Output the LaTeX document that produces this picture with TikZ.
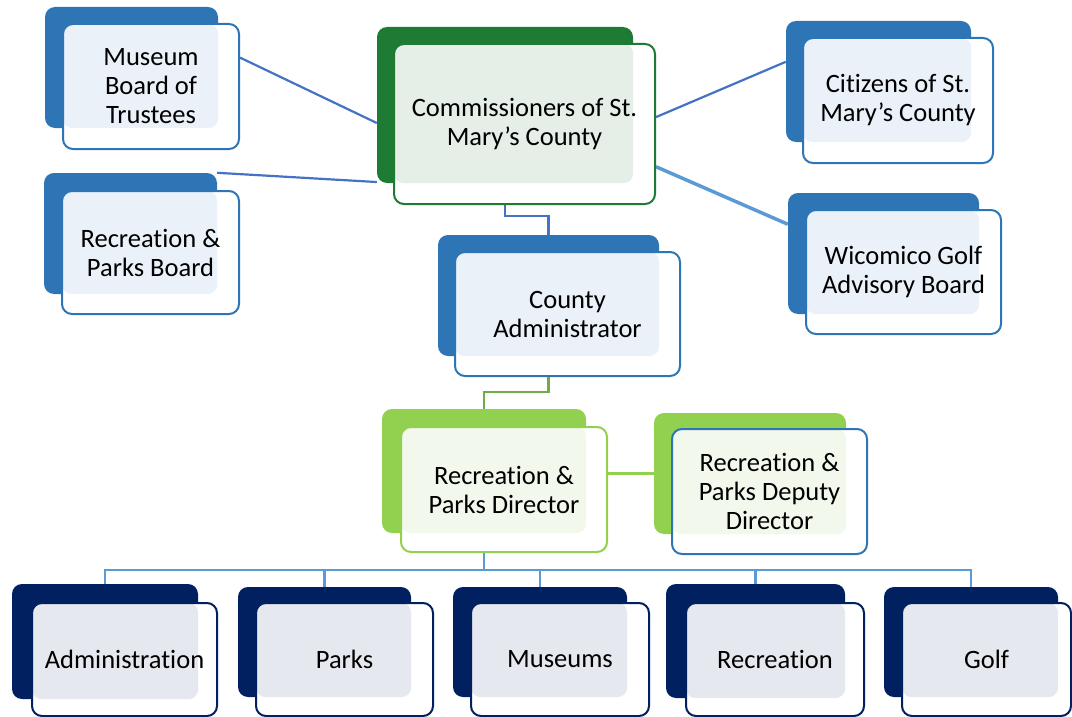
\documentclass[tikz,border=0pt]{standalone}
\usepackage{fontspec}
\setmainfont{Carlito}[RawFeature=-liga]
\usetikzlibrary{fit}
\pgfdeclarelayer{background}
\pgfsetlayers{background,main}
\definecolor{bblue}{HTML}{2E75B6}
\definecolor{tblue}{HTML}{EAF1F8}
\definecolor{bgreen}{HTML}{1E7B34}
\definecolor{tgreen}{HTML}{E5EEE7}
\definecolor{blgreen}{HTML}{92D050}
\definecolor{tlgreen}{HTML}{F2F8EC}
\definecolor{bnavy}{HTML}{002060}
\definecolor{tnavy}{HTML}{E5E8EE}
\definecolor{cblue}{HTML}{4472C4}
\definecolor{cltblue}{HTML}{5B9BD5}
\definecolor{cgreen}{HTML}{70AD47}
\newcommand\orgfont{\fontsize{26.5}{29}\selectfont}
\tikzset{
  backbox/.style={inner sep=0pt, rounded corners=10pt, fill=#1},
  whitebox/.style={inner sep=0pt, rounded corners=10pt, fill=white},
  frontbox/.style={inner sep=0pt, rounded corners=10pt, draw=#1, line width=2pt},
  boxtext/.style={align=center, font=\orgfont, inner sep=0pt, text=black},
  conn/.style={draw=cblue, line width=2.2pt},
  connlt/.style={draw=cltblue, line width=2.2pt},
  connthick/.style={draw=cltblue, line width=3.5pt},
  conngreen/.style={draw=cgreen, line width=2.2pt},
  connlgreen/.style={draw=blgreen, line width=3.5pt}
}
% #1 name, #2 back colour, #3 tint colour, #4 border colour,
% #5 back NW, #6 back SE, #7 front NW, #8 front SE, #9 text
\newcommand\orgbox[9]{%
  \node[fit={#5 #6}, backbox=#2] (#1B) {};
  \node[fit={#7 #8}, whitebox] (#1W) {};
  \fill[#3, rounded corners=10pt] (#1W.north west) rectangle (#1B.south east);
  \node[fit={#7 #8}, frontbox=#4] (#1) {};
  \node[boxtext] (#1T) at (#1.center) {#9};
}
\begin{document}
\begin{tikzpicture}[x=1pt, y=-1pt]
\useasboundingbox (0,0) rectangle (1072,717);
\orgbox{mus}{bblue}{tblue}{bblue}{(45,7)}{(218,128)}{(63,24)}{(239,149)}{Museum\\Board of\\Trustees}
\orgbox{rpb}{bblue}{tblue}{bblue}{(44,173)}{(217,294)}{(62,191)}{(239,314)}{Recreation \&\\Parks Board}
\orgbox{com}{bgreen}{tgreen}{bgreen}{(377,27)}{(633,183)}{(394,44)}{(655,204)}{Commissioners of St.\\Mary’s County}
\orgbox{cit}{bblue}{tblue}{bblue}{(786,21)}{(971,142)}{(803,38)}{(993,163)}{Citizens of St.\\Mary’s County}
\orgbox{wic}{bblue}{tblue}{bblue}{(788,193)}{(979,314)}{(806,210)}{(1001,334)}{Wicomico Golf\\Advisory Board}
\orgbox{cad}{bblue}{tblue}{bblue}{(438,235)}{(659,356)}{(455,252)}{(680,376)}{County\\Administrator}
\orgbox{dir}{blgreen}{tlgreen}{blgreen}{(382,409)}{(586,533)}{(401,427)}{(607,552)}{Recreation \&\\Parks Director}
\orgbox{dep}{blgreen}{tlgreen}{bblue}{(654,413)}{(846,534)}{(672,429)}{(867,554)}{Recreation \&\\Parks Deputy\\Director}
\orgbox{adm}{bnavy}{tnavy}{bnavy}{(12,584)}{(198,699)}{(32,603)}{(217,716)}{Administration}
\orgbox{prk}{bnavy}{tnavy}{bnavy}{(238,587)}{(411,697)}{(256,603)}{(433,716)}{Parks}
\orgbox{msm}{bnavy}{tnavy}{bnavy}{(453,587)}{(627,697)}{(471,603)}{(649,716)}{Museums}
\orgbox{rec}{bnavy}{tnavy}{bnavy}{(666,584)}{(845,698)}{(686,603)}{(864,716)}{Recreation}
\orgbox{glf}{bnavy}{tnavy}{bnavy}{(884,587)}{(1058,697)}{(902,603)}{(1071,716)}{Golf}
\begin{pgfonlayer}{background}
  \draw[conn] (mus.18) -- (comB.188);
  \draw[conn] (rpbB.north east) -- (comB.211);
  \draw[conn] (com.3) -- (citB.168);
  \draw[connthick] (com.-18) -- (wicB.163);
  \draw[conn] (comB.south) -- ++(0,33) -| (cadB.north);
  \draw[conngreen] (cadB.south) -- ++(0,36) -| (dirB.north);
  \draw[connlgreen] (depB.west) -- (depB.west -| dirB.center);
  \draw[connlt] (dirB.south) -- ++(0,37) coordinate (bus);
  \draw[connlt] (admB.north) |- (bus) -| (glfB.north);
  \draw[connlt] (prkB.north) -- (prkB.north |- bus);
  \draw[connlt] (msmB.north) -- (msmB.north |- bus);
  \draw[connlt] (recB.north) -- (recB.north |- bus);
\end{pgfonlayer}
\end{tikzpicture}
\end{document}
